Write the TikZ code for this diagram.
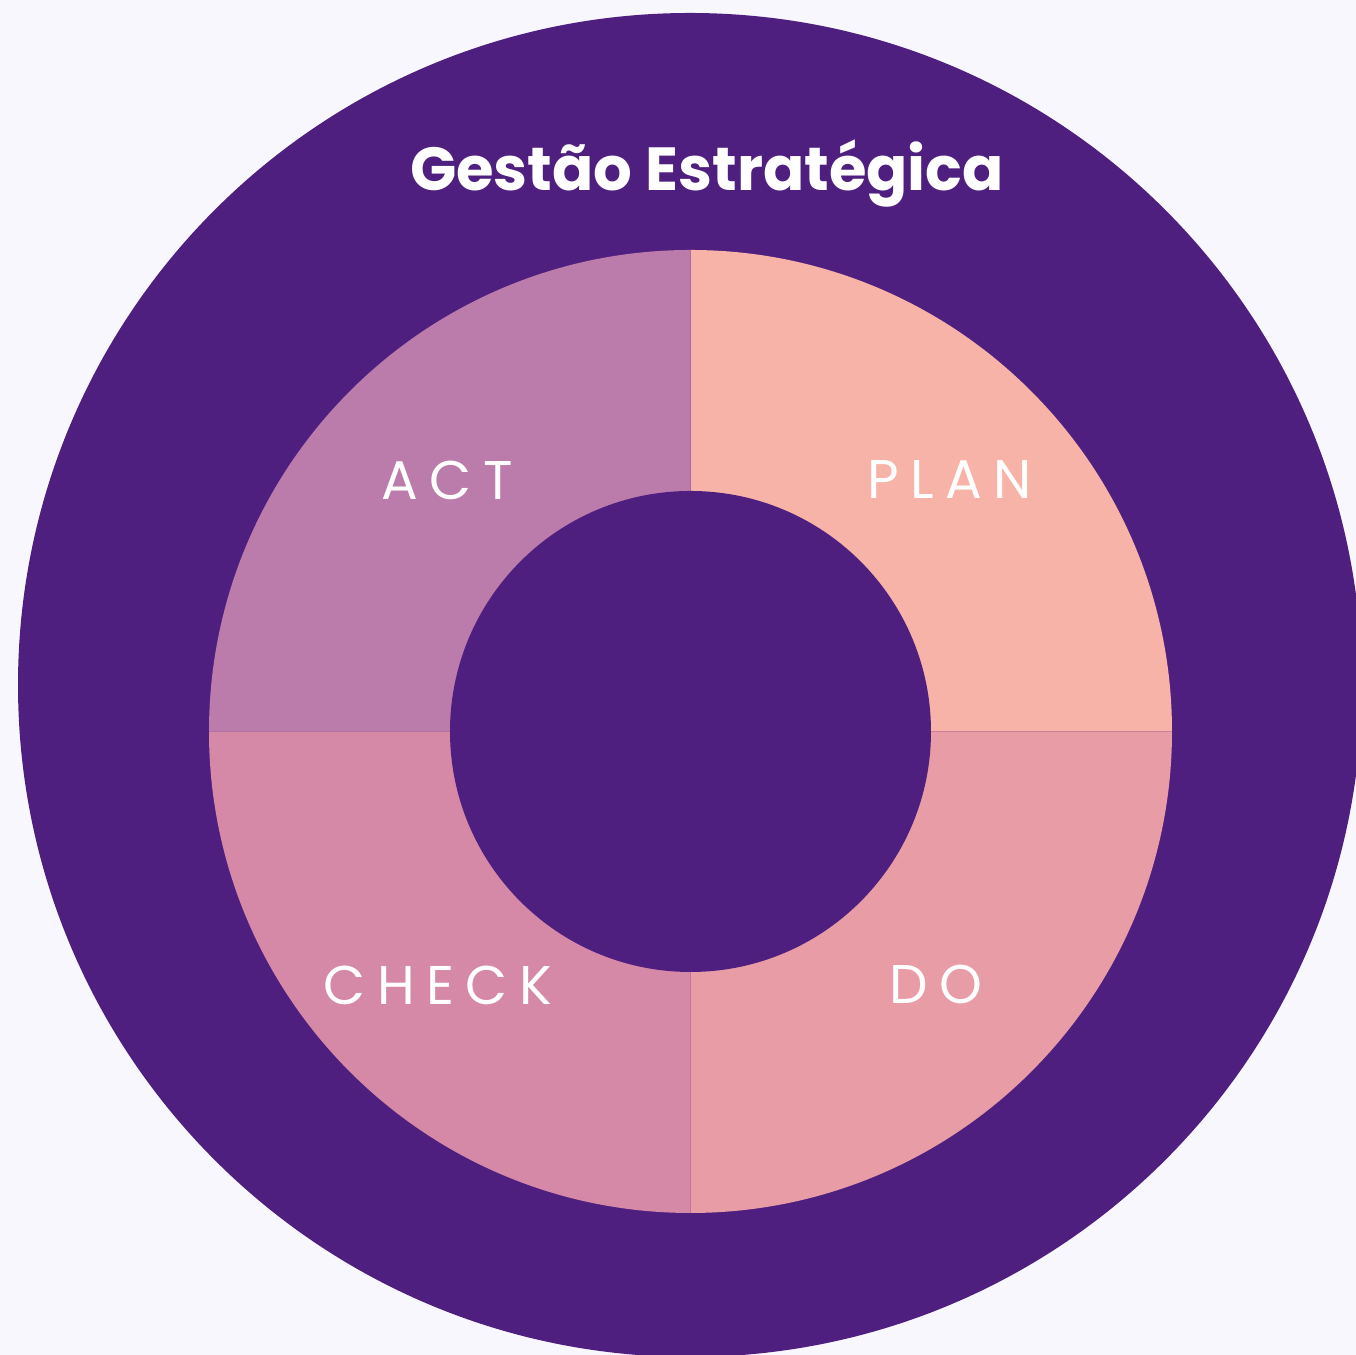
\documentclass[tikz,border=0pt]{standalone}
\usepackage{fontspec}
\setmainfont{Poppins}
\newfontfamily\labelfont[LetterSpace=21]{Poppins}
\usetikzlibrary{positioning}

\definecolor{bgcol}{HTML}{F8F7FD}
\definecolor{deeppurple}{HTML}{4F1F7F}
\definecolor{plancol}{HTML}{F7B3A8}
\definecolor{docol}{HTML}{E89CA6}
\definecolor{checkcol}{HTML}{D589A7}
\definecolor{actcol}{HTML}{BB7BAB}

\tikzset{
  steplabel/.style={draw=none, text=white, font=\labelfont\fontsize{15.5}{18}\selectfont, inner sep=0pt},
  titlelabel/.style={draw=none, text=white, font=\bfseries\fontsize{17.3}{20}\selectfont, inner sep=0pt}
}

\begin{document}
\begin{tikzpicture}[x=0.01cm, y=0.01cm]

% Page and background
\useasboundingbox (0,0) rectangle (1356,1355);
\clip (0,0) rectangle (1356,1355);
\fill[bgcol] (0,0) rectangle (1356,1355);

% Outer purple disc
\fill[deeppurple] (690,670) circle (672);

% PDCA ring quadrants
\foreach \a/\c in {0/plancol, 90/actcol, 180/checkcol, 270/docol} {
  \fill[\c] (690.5,623.5) -- ++(\a:481.5) arc (\a:\a+90:481.5) -- cycle;
}

% Inner hole
\fill[deeppurple] (690.5,623.5) circle (240.5);

% Title
\node[titlelabel] (title) at (707,1181) {Gestão Estratégica};

% Quadrant labels
\node[steplabel] (plan) at (950,875) {PLAN};
\node[steplabel] (act) at (447,875) {ACT};
\node[steplabel] (check) at (438,370) {CHECK};
\node[steplabel] (do) at (936,370) {DO};

\end{tikzpicture}
\end{document}
